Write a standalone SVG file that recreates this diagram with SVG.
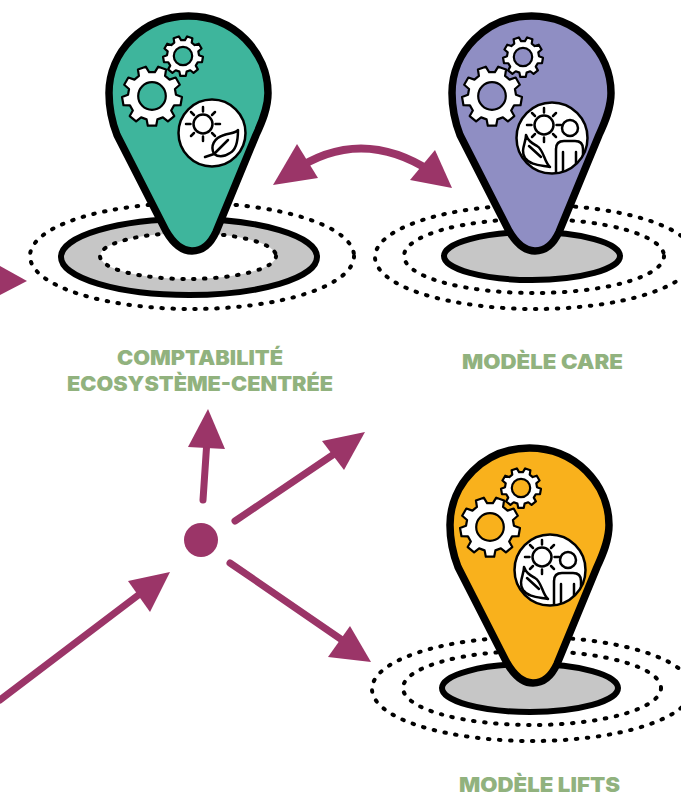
<svg xmlns="http://www.w3.org/2000/svg" width="681" height="795" viewBox="0 0 681 795">
<style>
text{font-family:"Inter","Liberation Sans",sans-serif;font-weight:900;font-size:20px;fill:#91b27e;text-anchor:middle}
.pin{stroke:#000;stroke-width:7.500;stroke-linejoin:round}
.gray{fill:#c6c6c6;stroke:#000;stroke-width:6}
.dot{fill:none;stroke:#000;stroke-width:4;stroke-linecap:round;stroke-dasharray:1.500 9.500}
.icon{fill:#fff;stroke:#000;stroke-width:2.500}
.ln{fill:none;stroke:#000;stroke-width:2.500;stroke-linecap:round;stroke-linejoin:round}
.ar{fill:none;stroke:#9b3568;stroke-width:7;stroke-linecap:round}
.hd{fill:#9b3568}
</style>
<defs>
<path id="pinshape" class="pin" d="M188.500 16C234 16 268 52 268 93C268 108 262 122 256 135L216 232C210 245 202 251 192 251C182 251 173 243 166 231L117 135C112 122 109 108 109 93C109 52 143 16 188.500 16Z"/>
<g id="gear">
<path d="M79.900 -4.200L99.900 3.500L95.100 30.900L73.600 31.300L63.900 48.100L74.300 66.900L53 84.800L36.300 71.300L18 78L13.900 99L-13.900 99L-18 78L-36.300 71.300L-53 84.800L-74.300 66.900L-63.900 48.100L-73.600 31.300L-95.100 30.900L-99.900 3.500L-79.900 -4.200L-76.500 -23.400L-92.700 -37.500L-78.800 -61.600L-58.500 -54.600L-43.600 -67.100L-46.900 -88.300L-20.800 -97.800L-9.700 -79.400L9.700 -79.400L20.800 -97.800L46.900 -88.300L43.600 -67.100L58.500 -54.600L78.800 -61.600L92.700 -37.500L76.500 -23.400Z" fill="#fff" stroke="#000" stroke-width="2.200" stroke-linejoin="round" vector-effect="non-scaling-stroke"/>
<circle r="46" stroke="#000" stroke-width="2.200" vector-effect="non-scaling-stroke"/>
</g>
<g id="sun">
<circle r="9.500" class="ln"/>
<path class="ln" d="M0 -17V-12.500M0 12.500V17M-17 0H-12.500M12.500 0H17M-12 -12L-9 -9M9 9L12 12M-12 12L-9 9M9 -9L12 -12"/>
</g>
<clipPath id="c2"><circle cx="0" cy="0" r="35"/></clipPath>
<g id="mix">
<circle r="35.500" class="icon"/>
<g clip-path="url(#c2)">
<use href="#sun" x="-8" y="-13"/>
<circle cx="18" cy="-10" r="8" class="ln"/>
<path class="ln" d="M4 38V11Q4 3 12 3H23Q31 3 31 11V38M11 14V36M24 14V30"/>
<path class="ln" d="M-26 -3C-26 5 -32 12 -27 20C-22 27 -12 27 -2 29C-8 24 -8 12 -15 8C-20 5 -24 3 -26 -3ZM-23 8L-11 19"/>
</g>
</g>
</defs>

<g id="connectors">
<path class="ar" d="M292 172Q360 125 432 172" style="stroke-width:8"/>
<path class="hd" d="M273 185L297 144L318 178Z"/>
<path class="hd" d="M452 188L435 150L410 180Z"/>
<path class="hd" d="M0 266L27 281L0 295Z"/>
<path class="ar" d="M203 500L207 440"/>
<path class="hd" d="M208 409L188 447L225 449Z"/>
<path class="ar" d="M235 521L340 450"/>
<path class="hd" d="M365 432L322 441L344 470Z"/>
<path class="ar" d="M230 563L345 642"/>
<path class="hd" d="M371 662L328 657L350 626Z"/>
<path class="ar" d="M0 700L145 590"/>
<path class="hd" d="M170 572L128 581L150 612Z"/>
</g>

<g id="hub"><circle cx="201" cy="540" r="17" fill="#9b3568"/></g>

<g id="node-comptabilite">
<ellipse class="dot" cx="192" cy="256" rx="162" ry="53"/>
<ellipse class="gray" cx="189" cy="257" rx="128" ry="38"/>
<ellipse class="dot" cx="188" cy="256" rx="88" ry="23" style="fill:#fff"/>
<use href="#pinshape" fill="#3eb59c"/>
<use href="#gear" transform="translate(152 96) scale(.3)" fill="#3eb59c"/>
<use href="#gear" transform="translate(183 56) scale(.2)" fill="#3eb59c"/>
<circle cx="212" cy="133" r="33.500" class="icon"/>
<use href="#sun" x="203" y="124"/>
<path class="ln" d="M205 157L214 154M214 154C210 146 214 138 224 135C230 133 236 133 238 130C238 140 236 150 230 153C224 157 218 157 214 154ZM214 154L228 140"/>
<text x="200" y="365" textLength="166" lengthAdjust="spacingAndGlyphs">COMPTABILITÉ</text>
<text x="200" y="391" textLength="266" lengthAdjust="spacingAndGlyphs">ECOSYSTÈME-CENTRÉE</text>
</g>

<g id="node-care">
<ellipse class="dot" cx="535" cy="257" rx="160" ry="52"/>
<ellipse class="dot" cx="534" cy="256" rx="130" ry="37"/>
<ellipse class="gray" cx="532" cy="256" rx="88" ry="24"/>
<use href="#pinshape" x="343" fill="#8f8ec3"/>
<use href="#gear" transform="translate(492 96) scale(.3)" fill="#8f8ec3"/>
<use href="#gear" transform="translate(523 57) scale(.2)" fill="#8f8ec3"/>
<use href="#mix" x="552" y="138"/>
<text x="542.500" y="369" textLength="161" lengthAdjust="spacingAndGlyphs">MODÈLE CARE</text>
</g>

<g id="node-lifts">
<ellipse class="dot" cx="532" cy="689" rx="160" ry="52"/>
<ellipse class="dot" cx="532" cy="688" rx="129" ry="37"/>
<ellipse class="gray" cx="530" cy="688" rx="88" ry="24"/>
<use href="#pinshape" x="341" y="432" fill="#f9b11c"/>
<use href="#gear" transform="translate(490 527) scale(.3)" fill="#f9b11c"/>
<use href="#gear" transform="translate(521 488) scale(.2)" fill="#f9b11c"/>
<use href="#mix" x="550" y="570"/>
<text x="539.500" y="792" textLength="161" lengthAdjust="spacingAndGlyphs">MODÈLE LIFTS</text>
</g>
</svg>
